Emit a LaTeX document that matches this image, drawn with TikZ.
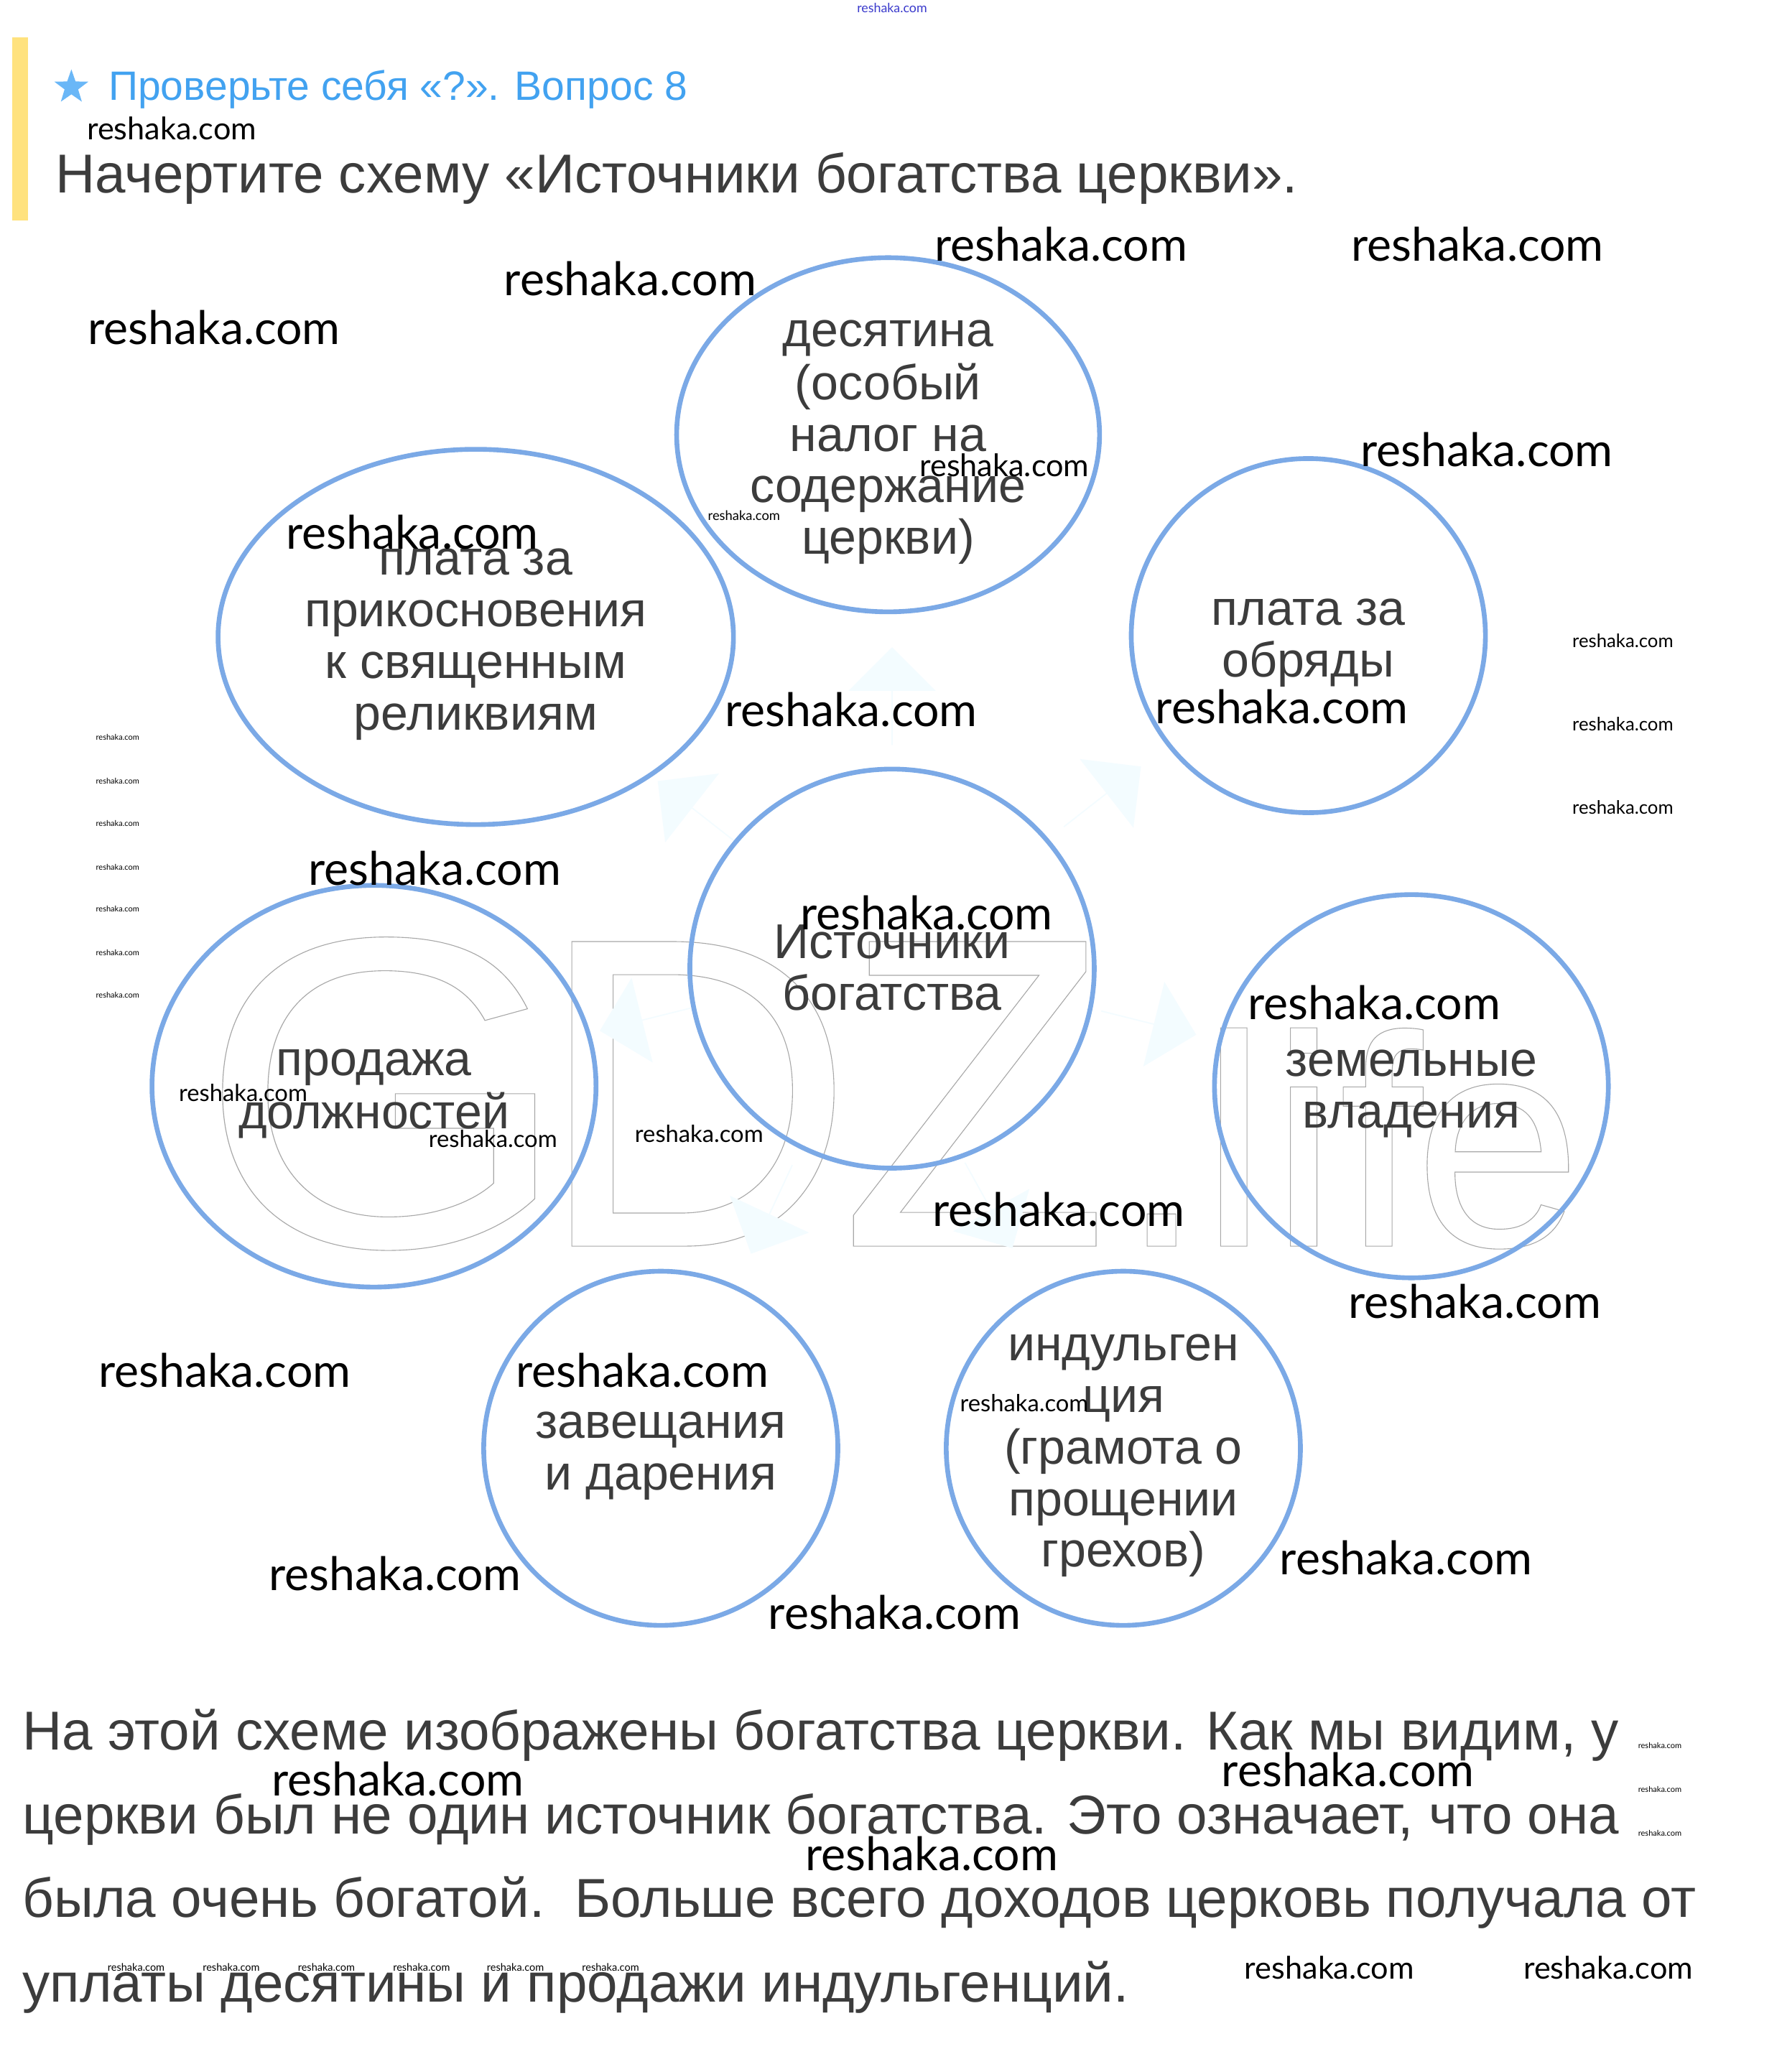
\documentclass[tikz,border=0pt]{standalone}
\usepackage{fontspec}
\setmainfont{Liberation Sans}
\newfontfamily\latofont{Lato}
\usetikzlibrary{shapes.geometric,shapes.arrows}
\definecolor{ringc}{HTML}{7BA9E6}
\definecolor{txtc}{HTML}{3C3C3C}
\definecolor{titlec}{HTML}{42A2F0}
\definecolor{starc}{HTML}{6AB7F7}
\definecolor{barc}{HTML}{FFE27E}
\definecolor{arrc}{HTML}{F3FCFF}
\definecolor{gdzc}{HTML}{A8A8A8}
\definecolor{wmblue}{HTML}{3A3ACC}
\newcommand\olt[1]{\special{pdf:literal direct 1 Tr 0.6 w}#1\special{pdf:literal direct 0 Tr}}
\tikzset{
  ring/.style={draw=ringc, line width=3.6pt, ellipse, inner sep=0pt},
  btext/.style={font=\fontsize{37}{39}\selectfont, text=txtc, align=center, inner sep=0pt, yshift=-4pt},
  para/.style={font=\fontsize{41.5}{41.5}\selectfont, text=txtc, inner sep=0pt, anchor=base west},
  wm/.style={font={\latofont\fontsize{#1}{#1}\selectfont}, text=black, inner sep=0pt},
  gdzbig/.style={anchor=base west, inner sep=0pt, text=gdzc, font=\fontsize{335}{335}\selectfont},
  gdzsmall/.style={anchor=base west, inner sep=0pt, text=gdzc, font=\fontsize{228}{228}\selectfont},
  farrow/.style={single arrow, fill=arrc, draw=none, minimum height=74pt, minimum width=66pt,
    single arrow head extend=14pt, single arrow head indent=0pt, inner sep=0pt}
}
\begin{document}
\begin{tikzpicture}[x=1pt,y=-1pt]
\useasboundingbox (0,0) rectangle (1348,1568);
\fill[white] (0,0) rectangle (1348,1568);

% GDZ.life outline watermark
\node[gdzbig] (gG) at (150,943) {\scalebox{1.08}[1]{\olt{G}}};
\node[gdzbig] (gD) at (405,943) {\olt{D}};
\node[gdzbig] (gZ) at (635,943) {\olt{Z}};
\node[gdzsmall] (gdot) at (847,943) {\olt{.}};
\node[gdzsmall] (gl) at (908,943) {\olt{l}};
\node[gdzsmall] (gi) at (961,943) {\olt{i}};
\node[gdzsmall] (gf) at (1013,943) {\olt{f}};
\node[gdzsmall] (ge) at (1070,943) {\olt{e}};

% faint arrows
\node[farrow, rotate=90] (a1) at (675,527) {};
\node[farrow, rotate=142] (a2) at (527,614) {};
\node[farrow, rotate=38] (a3) at (834,603) {};
\node[farrow, rotate=194] (a4) at (490,771) {};
\node[farrow, rotate=-14] (a5) at (869,774) {};
\node[farrow, rotate=245] (a6) at (584,915) {};
\node[farrow, rotate=-61] (a7) at (748,912) {};

% header
\fill[barc] (9,28) rectangle (21,167);
\node[star, star points=5, star point ratio=2.5, fill=starc, minimum size=27pt, inner sep=0pt] (star) at (54,66) {};
\node[anchor=base west, inner sep=0pt, text=titlec, font=\fontsize{31}{31}\selectfont] (head) at (82,76) {Проверьте себя «?». Вопрос 8};
\node[anchor=base west, inner sep=0pt, text=txtc, font=\fontsize{41.5}{41.5}\selectfont] (task) at (42,146) {Начертите схему «Источники богатства церкви».};

% rings
\node[ring, minimum width=320pt, minimum height=268pt] (tithe) at (672,329) {};
\node[ring, minimum width=390pt, minimum height=284pt] (relics) at (360,482) {};
\node[ring, minimum width=268pt, minimum height=268pt] (rites) at (990,481) {};
\node[ring, minimum width=306pt, minimum height=302pt] (src) at (675,733) {};
\node[ring, minimum width=336pt, minimum height=304pt] (posts) at (283,822) {};
\node[ring, minimum width=298pt, minimum height=290pt] (lands) at (1068,822) {};
\node[ring, minimum width=268pt, minimum height=268pt] (gifts) at (500,1096) {};
\node[ring, minimum width=268pt, minimum height=268pt] (indulg) at (850,1096) {};

% ring texts
\node[btext] (tithet) at (tithe) {\strut десятина\\\strut(особый\\\strut налог на\\\strut содержание\\\strut церкви)};
\node[btext] (relicst) at (relics) {\strut плата за\\\strut прикосновения\\\strut к священным\\\strut реликвиям};
\node[btext] (ritest) at (rites) {\strut плата за\\\strut обряды};
\node[btext] (srct) at (src) {\strut Источники\\\strut богатства};
\node[btext] (postst) at (posts) {\strut продажа\\\strut должностей};
\node[btext] (landst) at (lands) {\strut земельные\\\strut владения};
\node[btext] (giftst) at (gifts) {\strut завещания\\\strut и дарения};
\node[btext] (indulgt) at (indulg) {\strut индульген\\\strut ция\\\strut(грамота о\\\strut прощении\\\strut грехов)};

% paragraph
\node[para] (p1) at (17,1324) {На этой схеме изображены богатства церкви. Как мы видим, у};
\node[para] (p2) at (17,1388) {церкви был не один источник богатства. Это означает, что она};
\node[para] (p3) at (17,1451) {была очень богатой.\ \ Больше всего доходов церковь получала от};
\node[para] (p4) at (17,1515) {уплаты десятины и продажи индульгенций.};

% watermarks
\node[wm=9.7, text=wmblue] (w0) at (675,6) {reshaka.com};
\foreach \x/\y [count=\i] in {803/185,1118/185,477/211,162/248,1125/340,312/403,644/537,970/535,329/657,701/691,1040/759,801/915,1116/985,170/1037,486/1037,299/1191,677/1220,1064/1179,301/1346,1020/1339,705/1403}
  \node[wm=35] (wl\i) at (\x,\y) {reshaka.com};
\foreach \x/\y [count=\i] in {130/97,760/352,1006/1489,1217/1489}
  \node[wm=23.5] (wm\i) at (\x,\y) {reshaka.com};
\foreach \x/\y [count=\i] in {184/827,373/862,529/858,775/1062}
  \node[wm=17.8] (wn\i) at (\x,\y) {reshaka.com};
\foreach \y [count=\i] in {485,548,611}
  \node[wm=14] (ws\i) at (1228,\y) {reshaka.com};
\node[wm=10] (wt) at (563,390) {reshaka.com};
\foreach \y [count=\i] in {558,591,623,656,688,721,753}
  \node[wm=6] (wa\i) at (89,\y) {reshaka.com};
\foreach \y [count=\i] in {1321,1354,1387}
  \node[wm=6] (wb\i) at (1256,\y) {reshaka.com};
\foreach \x [count=\i] in {103,175,247,319,390,462}
  \node[wm=7.9] (wc\i) at (\x,1489) {reshaka.com};
\end{tikzpicture}
\end{document}
